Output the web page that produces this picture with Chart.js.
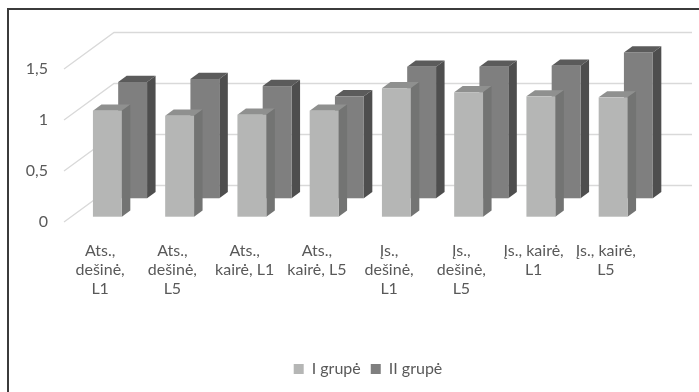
<!DOCTYPE html>
<html lang="lt">
<head>
<meta charset="utf-8">
<script src="https://cdn.jsdelivr.net/npm/chart.js@4.4.1/dist/chart.umd.min.js"></script>
<style>
  html, body { margin: 0; padding: 0; background: #fff; overflow: hidden; width: 699px; height: 392px; }
  #chart { position: absolute; left: 0; top: 0; }
  #frame { position: absolute; left: 7px; top: 8px; width: 760px; height: 420px;
           border-left: 2px solid #3b3b3b; border-top: 2px solid #3b3b3b; pointer-events: none; }
</style>
</head>
<body>
<canvas id="chart" width="736" height="392"></canvas>
<div id="frame"></div>
<script>
// Categories (multi-line axis labels)
const categories = [
  ["Ats.,", "dešinė,", "L1"],
  ["Ats.,", "dešinė,", "L5"],
  ["Ats.,", "kairė, L1"],
  ["Ats.,", "kairė, L5"],
  ["Įs.,", "dešinė,", "L1"],
  ["Įs.,", "dešinė,", "L5"],
  ["Įs., kairė,", "L1"],
  ["Įs., kairė,", "L5"]
];
const seriesNames = ["I grupė", "II grupė"];
const groupI  = [1.04, 0.99, 1.00, 1.04, 1.26, 1.22, 1.18, 1.17];
const groupII = [1.14, 1.17, 1.10, 1.00, 1.29, 1.29, 1.30, 1.43];
const yTicks = [0, 0.5, 1, 1.5];
const yTickLabels = ["0", "0,5", "1", "1,5"];

// Plot box on the front plane
const PLOT_TOP = 69, PLOT_BOTTOM = 222, PAD_BOTTOM = 5;
// Oblique projection of the full depth of the plot box
const DEPTH = { dx: 50, dy: -36.5 };
// Face colours and depth slot of each series' columns
const FACES = [
  { front: "#b5b6b5", side: "#737473", top: "#8f908f", at: 0.145, len: 0.17 },
  { front: "#7f7f7f", side: "#4e4e4e", top: "#5b5b5b", at: 0.65,  len: 0.17 }
];
const TEXT = "#595959";
const FONT = { family: "Lato, 'Noto Sans', sans-serif", size: 16 };

function fillPoly(ctx, pts, color) {
  ctx.beginPath();
  ctx.moveTo(pts[0][0], pts[0][1]);
  for (let k = 1; k < pts.length; k++) ctx.lineTo(pts[k][0], pts[k][1]);
  ctx.closePath();
  ctx.fillStyle = color;
  ctx.fill();
}

// Draws the side/back walls and turns each bar into a prism
const depthColumns = {
  id: "depthColumns",
  beforeDatasetsDraw(chart) {
    const { ctx, chartArea: a, scales: { y } } = chart;
    ctx.save();
    ctx.strokeStyle = "#d9d9d9";
    ctx.lineWidth = 1.3;
    y.ticks.forEach(t => {
      const py = y.getPixelForValue(t.value);
      ctx.beginPath();
      ctx.moveTo(a.left, py);
      ctx.lineTo(a.left + DEPTH.dx, py + DEPTH.dy);
      ctx.lineTo(a.right + DEPTH.dx, py + DEPTH.dy);
      ctx.stroke();
    });
    ctx.restore();
  },
  beforeDatasetDraw() {
    return false; // flat bars are replaced by the prisms below
  },
  afterDatasetsDraw(chart) {
    const ctx = chart.ctx;
    ctx.save();
    for (let i = chart.data.datasets.length - 1; i >= 0; i--) {
      const f = FACES[i];
      const ox = f.at * DEPTH.dx, oy = f.at * DEPTH.dy;
      const sx = f.len * DEPTH.dx, sy = f.len * DEPTH.dy;
      chart.getDatasetMeta(i).data.forEach(bar => {
        const { x, y, base, width } = bar.getProps(["x", "y", "base", "width"], true);
        const l = x - width / 2 + ox, r = x + width / 2 + ox;
        const t = y + oy, b = base + oy;
        fillPoly(ctx, [[l, t], [l + sx, t + sy], [r + sx, t + sy], [r, t]], f.top);
        fillPoly(ctx, [[r, t], [r + sx, t + sy], [r + sx, b + sy], [r, b]], f.side);
        ctx.fillStyle = f.front;
        ctx.fillRect(l, t, r - l, b - t);
      });
    }
    ctx.restore();
  }
};

Chart.defaults.font.family = FONT.family;
Chart.defaults.font.size = FONT.size;
Chart.defaults.color = TEXT;

new Chart(document.getElementById("chart"), {
  type: "bar",
  data: {
    labels: categories,
    datasets: [
      { label: seriesNames[0], data: groupI,  backgroundColor: FACES[0].front, borderWidth: 0, grouped: false },
      { label: seriesNames[1], data: groupII, backgroundColor: FACES[1].front, borderWidth: 0, grouped: false }
    ]
  },
  options: {
    responsive: false,
    animation: false,
    devicePixelRatio: 1,
    categoryPercentage: 1,
    barPercentage: 0.4,
    layout: { padding: { top: PLOT_TOP, left: 0, right: 0, bottom: PAD_BOTTOM } },
    plugins: {
      tooltip: { enabled: false },
      legend: {
        position: "bottom",
        labels: { boxWidth: 10, boxHeight: 10, padding: 10, color: TEXT, font: FONT }
      }
    },
    scales: {
      x: {
        grid: { display: false, drawTicks: false },
        border: { display: false },
        ticks: { color: TEXT, font: FONT, padding: 19, maxRotation: 0, autoSkip: false },
        afterFit(s) {
          const legendH = s.chart.legend ? s.chart.legend.height : 0;
          s.height = s.chart.height - PAD_BOTTOM - legendH - PLOT_BOTTOM;
        }
      },
      y: {
        min: 0, max: 1.5,
        grid: { display: false, drawTicks: false },
        border: { display: false },
        ticks: { color: TEXT, font: FONT, padding: 16, callback: (v, i) => yTickLabels[i] },
        afterBuildTicks(s) { s.ticks = yTicks.map(v => ({ value: v })); },
        afterFit(s) { s.width = 64; }
      },
      depthGutter: {
        type: "linear",
        position: "right",
        display: true,
        grid: { display: false, drawTicks: false },
        border: { display: false },
        ticks: { display: false },
        afterFit(s) { s.width = 94; }
      }
    }
  },
  plugins: [depthColumns]
});
</script>
</body>
</html>
